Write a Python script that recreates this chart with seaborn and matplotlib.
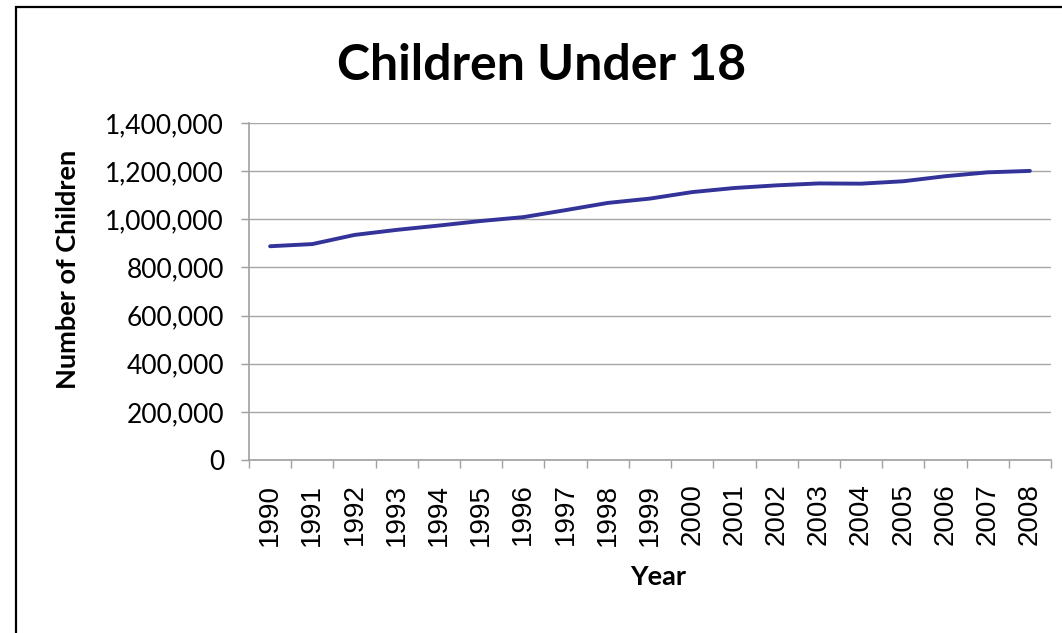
import matplotlib
matplotlib.use("Agg")
import matplotlib.pyplot as plt
import seaborn as sns
import pandas as pd
import numpy as np
from matplotlib.patches import Rectangle

years = [1990, 1991, 1992, 1993, 1994, 1995, 1996, 1997, 1998, 1999,
         2000, 2001, 2002, 2003, 2004, 2005, 2006, 2007, 2008]
children = [888000, 897000, 935000, 956000, 974000, 993000, 1009000, 1038000,
            1068000, 1086000, 1113000, 1130000, 1141000, 1149000, 1148000,
            1158000, 1179000, 1195000, 1201000]
y_ticks = [0, 200000, 400000, 600000, 800000, 1000000, 1200000, 1400000]
year_labels = [str(y) for y in years]
y_tick_labels = [f"{v:,}" for v in y_ticks]

title = "Children Under 18"
x_label = "Year"
y_label = "Number of Children"

sns.set_theme(style="white")
plt.rcParams['font.family'] = ['Liberation Sans', 'DejaVu Sans']
plt.rcParams['text.color'] = 'black'
plt.rcParams['axes.labelcolor'] = 'black'
plt.rcParams['xtick.color'] = 'black'
plt.rcParams['ytick.color'] = 'black'

df = pd.DataFrame({"Year": years, "Children": children})

fig = plt.figure(figsize=(10.62, 6.33), dpi=100)
ax = fig.add_axes([249/1062, 1 - 460/633, (1051-249)/1062, (460-123)/633])

sns.lineplot(data=df, x="Year", y="Children", ax=ax, color="#333399",
             linewidth=2.8, legend=False)

ax.set_xlim(years[0] - 0.5, years[-1] + 0.5)
ax.set_ylim(y_ticks[0], y_ticks[-1])
ax.set_yticks(y_ticks, y_tick_labels, fontfamily="Lato", fontsize=19)

# category boundaries as major ticks (no labels), centers as minor labels
bounds = [y - 0.5 for y in years] + [years[-1] + 0.5]
ax.set_xticks(bounds, [""] * len(bounds))
ax.set_xticks(years, year_labels, minor=True, fontfamily="Liberation Sans",
              fontsize=20, rotation=90)
ax.tick_params(axis="x", which="major", length=6, width=1, color="#a0a0a0",
               direction="out", bottom=True)
ax.tick_params(axis="x", which="minor", length=0, pad=17)
ax.tick_params(axis="y", which="major", length=6, width=1, color="#a0a0a0",
               direction="out", left=True, pad=12)

ax.grid(axis="y", color="#a6a6a6", linewidth=1)
ax.grid(axis="x", visible=False)
ax.set_axisbelow(True)
for s in ["top", "right"]:
    ax.spines[s].set_visible(False)
for s in ["left", "bottom"]:
    ax.spines[s].set_color("#a0a0a0")
    ax.spines[s].set_linewidth(1.2)

ax.set_xlabel("")
ax.set_ylabel("")
fig.text(658/1062, 1 - 577/633, x_label, ha="center", va="center",
         fontsize=19.5, fontweight="bold", color="black", fontfamily="Lato")
fig.text(68/1062, 1 - 269/633, y_label, ha="center", va="center",
         rotation=90, fontsize=19.5, fontweight="bold", color="black",
         fontfamily="Lato")
fig.text(542/1062, 1 - 65/633, title, ha="center", va="center",
         fontsize=36, fontweight="bold", color="black", fontfamily="Lato")

fig.patches.append(Rectangle((16/1062, -0.05), 1.2, 1 - 7/633 + 0.05,
                             transform=fig.transFigure, fill=False,
                             edgecolor="black", linewidth=1.6))

fig.savefig("out.png", dpi=100, facecolor="white")
